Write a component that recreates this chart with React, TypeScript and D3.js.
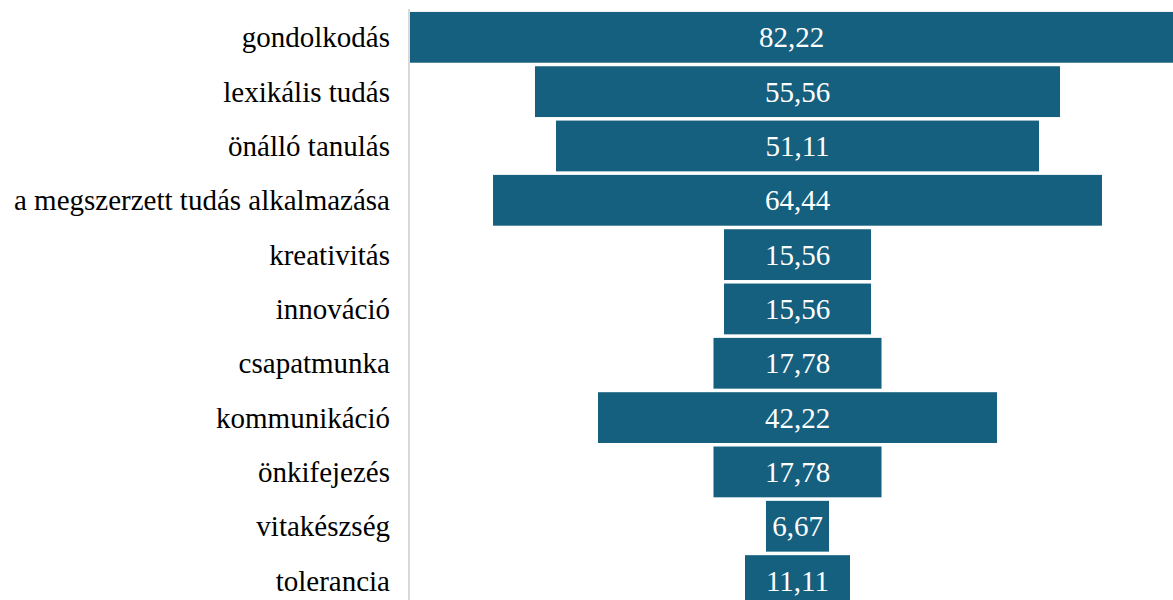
import React from "react";
import * as d3 from "d3";

const categories = [
  "gondolkodás",
  "lexikális tudás",
  "önálló tanulás",
  "a megszerzett tudás alkalmazása",
  "kreativitás",
  "innováció",
  "csapatmunka",
  "kommunikáció",
  "önkifejezés",
  "vitakészség",
  "tolerancia",
];
const values = [82.22, 55.56, 51.11, 64.44, 15.56, 15.56, 17.78, 42.22, 17.78, 6.67, 11.11];

const W = 1173;
const H = 600;
const plotLeft = 410;
const plotRight = 1173;
const centerX = 797.5;

export default function App() {
  const y = d3
    .scaleBand<string>()
    .domain(categories)
    .range([10.3, 10.3 + 54.3 * categories.length])
    .paddingInner(0.065)
    .paddingOuter(0.03);
  const w = d3.scaleLinear().domain([0, 100]).range([0, 945]);
  const fmt = (v: number) => v.toFixed(2).replace(".", ",");
  const font = "'Liberation Serif', 'Times New Roman', serif";
  return (
    <svg width={W} height={H} style={{ position: "absolute", left: 0, top: 0 }}>
      <defs>
        <clipPath id="plotclip">
          <rect x={plotLeft} y={0} width={plotRight - plotLeft} height={H} />
        </clipPath>
      </defs>
      <rect x={0} y={0} width={W} height={H} fill="#fff" />
      <g clipPath="url(#plotclip)">
        {categories.map((c, i) => {
          const bw = w(values[i]);
          return (
            <rect
              key={c}
              x={centerX - bw / 2}
              y={y(c)!}
              width={bw}
              height={y.bandwidth()}
              fill="#16607f"
            />
          );
        })}
      </g>
      <line x1={409} x2={409} y1={9} y2={H} stroke="#d9d9d9" strokeWidth={2} />
      {categories.map((c, i) => {
        const bw = w(values[i]);
        const x0 = Math.max(plotLeft, centerX - bw / 2);
        const x1 = Math.min(plotRight, centerX + bw / 2);
        const cy = y(c)! + y.bandwidth() / 2;
        return (
          <g key={c}>
            <text
              x={(x0 + x1) / 2}
              y={cy}
              dy="0.35em"
              textAnchor="middle"
              fill="#fff"
              fontFamily={font}
              fontSize={29}
            >
              {fmt(values[i])}
            </text>
            <text
              x={390}
              y={cy}
              dy="0.35em"
              textAnchor="end"
              fill="#000"
              fontFamily={font}
              fontSize={29}
            >
              {c}
            </text>
          </g>
        );
      })}
    </svg>
  );
}
